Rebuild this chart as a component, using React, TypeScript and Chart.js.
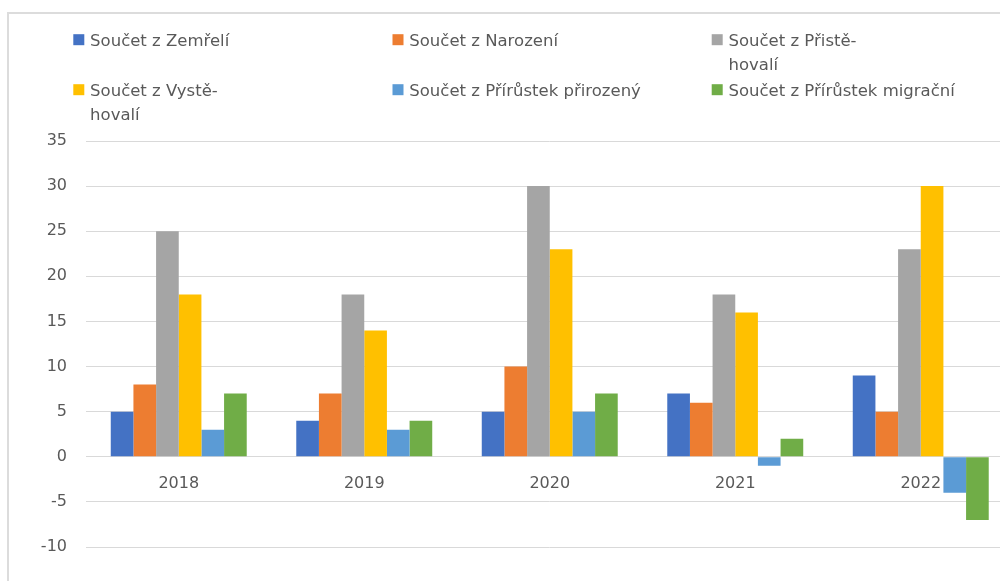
import React, { useEffect, useRef } from "react";
import { Chart, registerables } from "chart.js";

Chart.register(...registerables);

const categories = ["2018", "2019", "2020", "2021", "2022"];
const seriesLabels = [
  "Součet z Zemřelí",
  "Součet z Narození",
  "Součet z Přistě\u00ADhovalí",
  "Součet z Vystě\u00ADhovalí",
  "Součet z Přírůstek přirozený",
  "Součet z Přírůstek migrační",
];
const zemreli = [5, 4, 5, 7, 9];
const narozeni = [8, 7, 10, 6, 5];
const pristehovali = [25, 18, 30, 18, 23];
const vystehovali = [18, 14, 23, 16, 30];
const prirustekPrirozeny = [3, 3, 5, -1, -4];
const prirustekMigracni = [7, 4, 7, 2, -7];
const seriesColors = ["#4472C4", "#ED7D31", "#A5A5A5", "#FFC000", "#5B9BD5", "#70AD47"];
const yMin = -10;
const yMax = 35;
const yStep = 5;

const FONT = "'DejaVu Sans', sans-serif";
const TEXT = "#595959";

const legendPlugin = {
  id: "gridLegend",
  afterDraw(chart: any) {
    const ctx = chart.ctx;
    ctx.save();
    ctx.font = `16.5px ${FONT}`;
    ctx.textBaseline = "alphabetic";
    ctx.textAlign = "left";
    chart.data.datasets.forEach((ds: any, i: number) => {
      const col = i % 3;
      const row = Math.floor(i / 3);
      const bx = 73.3 + col * 319.2;
      const base = 45.7 + row * 50;
      ctx.fillStyle = ds.backgroundColor;
      ctx.fillRect(bx, base - 11.5, 11, 11);
      const parts = String(ds.label).split("\u00AD");
      ctx.fillStyle = TEXT;
      parts.forEach((p: string, j: number) => {
        const t = j < parts.length - 1 ? p + "-" : p;
        ctx.fillText(t, bx + 16.8, base + j * 24.4);
      });
    });
    ctx.restore();
  },
};

export default function App() {
  const ref = useRef<HTMLCanvasElement | null>(null);
  useEffect(() => {
    if (!ref.current) return;
    const dataSeries = [zemreli, narozeni, pristehovali, vystehovali, prirustekPrirozeny, prirustekMigracni];
    const chart = new Chart(ref.current, {
      type: "bar",
      data: {
        labels: categories,
        datasets: dataSeries.map((d, i) => ({
          label: seriesLabels[i],
          data: d,
          backgroundColor: seriesColors[i],
          borderWidth: 0,
          categoryPercentage: 0.733,
          barPercentage: 1.0,
        })),
      },
      options: {
        responsive: false,
        animation: false,
        devicePixelRatio: 1,
        layout: { padding: { top: 141, left: 0, right: 16.5, bottom: 53 } },
        plugins: {
          legend: { display: false },
          tooltip: { enabled: false },
        },
        scales: {
          x: {
            position: { y: 0 } as any,
            grid: { display: false },
            border: { display: false },
            ticks: {
              color: TEXT,
              font: { family: FONT, size: 16 },
              padding: 9,
              maxRotation: 0,
            },
            afterFit: (scale: any) => {
              scale.height = 0;
            },
          },
          y: {
            min: yMin,
            max: yMax,
            grid: { color: "#D9D9D9", lineWidth: 1, drawTicks: false },
            border: { display: false },
            ticks: {
              stepSize: yStep,
              color: TEXT,
              font: { family: FONT, size: 16 },
              padding: 19,
            },
            afterFit: (scale: any) => {
              scale.width = 86;
            },
          },
        },
      },
      plugins: [legendPlugin],
    });
    return () => chart.destroy();
  }, []);

  return (
    <div
      style={{
        position: "fixed",
        left: 0,
        top: 0,
        width: 1000,
        height: 581,
        overflow: "hidden",
        background: "#fff",
      }}
    >
      <div
        style={{
          position: "absolute",
          left: 7,
          top: 12,
          width: 1100,
          height: 700,
          border: "2px solid #DCDCDC",
        }}
      />
      <canvas ref={ref} width={1030} height={600} style={{ position: "absolute", left: 0, top: 0 }} />
    </div>
  );
}
